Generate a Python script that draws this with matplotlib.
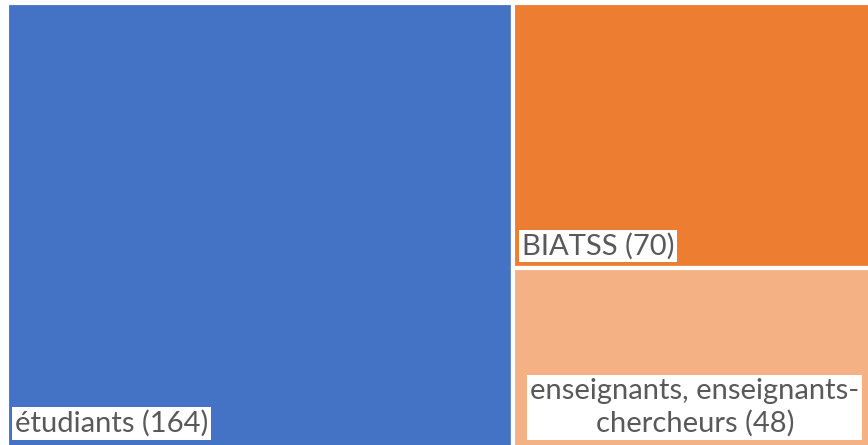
import matplotlib.pyplot as plt
from matplotlib.patches import Rectangle

labels = ['étudiants (164)', 'BIATSS (70)', 'enseignants, enseignants-\nchercheurs (48)']
values = [164, 70, 48]
colors = ['#4472C4', '#ED7D31', '#F4B183']

total = sum(values)
right = values[1] + values[2]

fig = plt.figure(figsize=(8.68, 4.45), dpi=100)
ax = fig.add_axes([7 / 868, -4 / 445, 870 / 868, 446 / 445])
ax.set_xlim(0, total)
ax.set_ylim(0, 1)
ax.axis('off')

# squarified layout: big block on the left, the two others stacked on the right
x_split = values[0]
y_split = values[2] / right
rects = [
    (0, 0, x_split, 1),
    (x_split, y_split, right, 1 - y_split),
    (x_split, 0, right, y_split),
]

for (x, y, w, h), c in zip(rects, colors):
    ax.add_patch(Rectangle((x, y), w, h, facecolor=c, edgecolor='white', linewidth=3))

box = dict(facecolor='white', edgecolor='none', pad=2)
font = dict(family='Lato', size=21, color='#595959')

x, y, w, h = rects[0]
ax.annotate(labels[0], xy=(x, y), xytext=(8, 12), textcoords='offset pixels',
            ha='left', va='bottom', bbox=box, **font)
x, y, w, h = rects[1]
ax.annotate(labels[1], xy=(x, y), xytext=(9, 8), textcoords='offset pixels',
            ha='left', va='bottom', bbox=box, **font)
x, y, w, h = rects[2]
ax.annotate(labels[2], xy=(x + w / 2, y), xytext=(0, 12), textcoords='offset pixels',
            ha='center', va='bottom', multialignment='center', linespacing=1.3,
            bbox=box, **font)

fig.savefig('out.png', dpi=100)
